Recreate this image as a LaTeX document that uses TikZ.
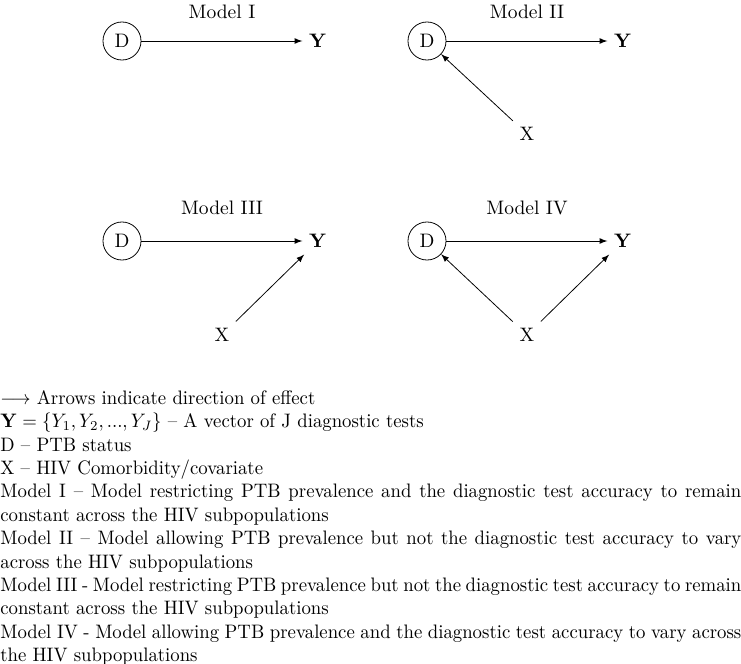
\documentclass[tikz,border=0pt]{standalone}
\begin{document}
\begin{tikzpicture}[x=0.5128pt, y=-0.5128pt, >=latex,
	state/.style={circle, draw, minimum size=19.5pt, inner sep=0pt}]
	\useasboundingbox (0,0) rectangle (741,664);
	
	% Model I
	\node (t1) at (222,12) {Model I};
	\node[state] (d1) at (122,41) {D};
	\node (y1) at (318,41) {$\mathbf{Y}$};
	\draw[->] (d1) -- (y1);
	
	% Model II
	\node (t2) at (527,12) {Model II};
	\node[state] (d2) at (427,41) {D};
	\node (y2) at (623,41) {$\mathbf{Y}$};
	\node (x2) at (527,134) {X};
	\draw[->] (d2) -- (y2);
	\draw[->] (x2) -- (d2);
	
	% Model III
	\node (t3) at (222,208) {Model III};
	\node[state] (d3) at (122,241) {D};
	\node (y3) at (318,241) {$\mathbf{Y}$};
	\node (x3) at (222,335) {X};
	\draw[->] (d3) -- (y3);
	\draw[->] (x3) -- (y3);
	
	% Model IV
	\node (t4) at (527,208) {Model IV};
	\node[state] (d4) at (427,241) {D};
	\node (y4) at (623,241) {$\mathbf{Y}$};
	\node (x4) at (527,335) {X};
	\draw[->] (d4) -- (y4);
	\draw[->] (x4) -- (d4);
	\draw[->] (x4) -- (y4);
	
	% legend
	\node[anchor=north west, inner sep=0pt, text width=395pt, align=justify,
		xscale=0.962, transform shape] (legend) at (0,390) {%
		$\longrightarrow$ Arrows indicate direction of effect\par
		$\mathbf{Y}=\{Y_1,Y_2,...,Y_J\}$ -- A vector of J diagnostic tests\par
		D -- PTB status\par
		X -- HIV Comorbidity/covariate\par
		Model I -- Model restricting PTB prevalence and the diagnostic test accuracy to remain constant across the HIV subpopulations\par
		Model II -- Model allowing PTB prevalence but not the diagnostic test accuracy to vary across the HIV subpopulations\par
		Model III - Model restricting PTB prevalence but not the diagnostic test accuracy to remain constant across the HIV subpopulations\par
		Model IV - Model allowing PTB prevalence and the diagnostic test accuracy to vary across the HIV subpopulations};
\end{tikzpicture}
\end{document}
